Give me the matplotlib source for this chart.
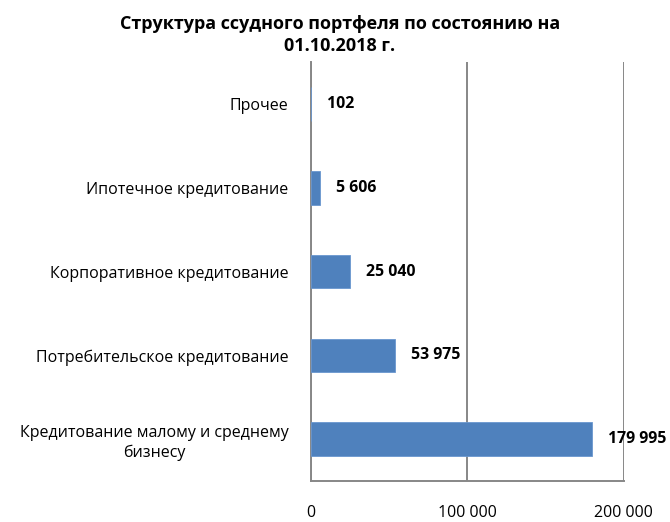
import matplotlib.pyplot as plt

plt.rcParams['font.family'] = ['Open Sans', 'DejaVu Sans']

categories = [
    'Кредитование малому и среднему\nбизнесу',
    'Потребительское кредитование',
    'Корпоративное кредитование',
    'Ипотечное кредитование',
    'Прочее',
]
values = [179995, 53975, 25040, 5606, 102]
value_labels = ['179 995', '53 975', '25 040', '5 606', '102']
x_ticks = [0, 100000, 200000]
x_tick_labels = ['0', '100 000', '200 000']

fig = plt.figure(figsize=(6.7, 5.22), dpi=100)
ax = fig.add_axes([0.464, 0.0785, 0.467, 0.8025])

pos = range(len(categories))
ax.barh(pos, values, height=0.4, color='#4F81BD', edgecolor='#6A97CF', linewidth=0.6, zorder=3)

for p, v, lab in zip(pos, values, value_labels):
    ax.annotate(lab, (v, p), xytext=(11.5, 0), textcoords='offset points',
                ha='left', va='center', fontsize=11.4, fontweight='bold', zorder=4,
                annotation_clip=False)

ax.set_ylim(-0.5, len(categories) - 0.5)
ax.set_xlim(0, 200000)
ax.set_yticks(list(pos))
ax.set_yticklabels(categories, multialignment='center', linespacing=1.3)
ax.set_xticks(x_ticks)
ax.set_xticklabels(x_tick_labels)
ax.tick_params(axis='y', length=0, pad=16, labelsize=11.5)
ax.tick_params(axis='x', length=0, pad=17, labelsize=11.5)

ax.grid(axis='x', color='#878787', linewidth=1.4, zorder=0)
for side in ['top', 'right']:
    ax.spines[side].set_visible(False)
for side in ['left', 'bottom']:
    ax.spines[side].set_color('#878787')
    ax.spines[side].set_linewidth(1.4)

fig.text(0.507, 0.933, 'Структура ссудного портфеля по состоянию на\n01.10.2018 г.',
         ha='center', va='center', fontsize=13, fontweight='bold', linespacing=1.35)

fig.savefig('out.png', dpi=100)
